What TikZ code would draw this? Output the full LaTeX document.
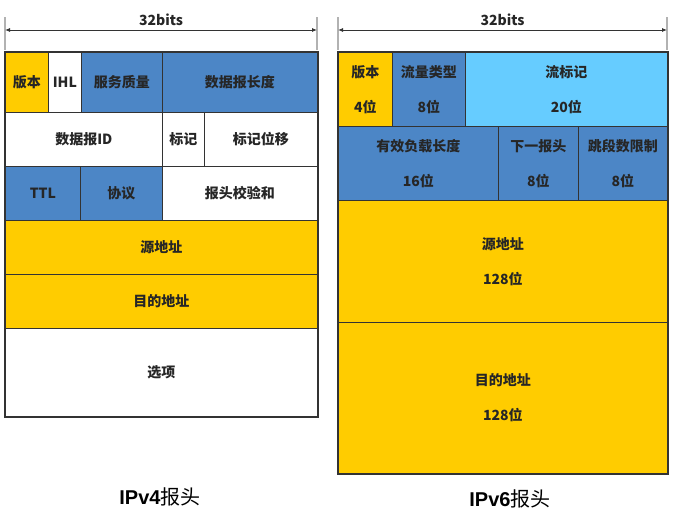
\documentclass[tikz,border=0pt]{standalone}
\usepackage{fontspec}
\setmainfont{Liberation Sans}
\newfontfamily\cjk{Noto Sans CJK SC}
\usetikzlibrary{arrows.meta}
\definecolor{hdrgold}{HTML}{FFCC00}
\definecolor{hdrblue}{HTML}{4C86C6}
\definecolor{hdrsky}{HTML}{66CCFF}

\begin{document}
\begin{tikzpicture}[
    x=1pt, y=-1pt,
    cell/.style={draw=black!80, line width=0.8pt, inner sep=0pt, anchor=north west,
        align=center, text=black!85, font=\cjk\bfseries\fontsize{14}{35}\selectfont},
    box/.style 2 args={minimum width=#1pt, minimum height=#2pt},
    gold/.style={cell, fill=hdrgold},
    blue/.style={cell, fill=hdrblue},
    sky/.style={cell, fill=hdrsky},
    plain/.style={cell, fill=white},
    frame/.style={draw=black!80, line width=1.6pt},
    span/.style={{Latex[length=5pt,width=4pt]}-{Latex[length=5pt,width=4pt]}, line width=0.8pt, black!80},
    tick/.style={gray!60, line width=1.2pt},
    bits/.style={midway, above=1pt, font=\cjk\bfseries\fontsize{14}{16}\selectfont, text=black!85},
    caption/.style={font=\fontsize{20}{24}\selectfont}
]
    \useasboundingbox (0,0) rectangle (677,521);

    % IPv4 header
    \node (v4ver)   [gold,  box={43}{60}]  at (5,52)    {版本};
    \node (v4ihl)   [plain, box={33}{60}]  at (48,52)   {IHL};
    \node (v4tos)   [blue,  box={81}{60}]  at (81,52)   {服务质量};
    \node (v4len)   [blue,  box={155}{60}] at (162,52)  {数据报长度};
    \node (v4id)    [plain, box={157}{54}] at (5,112)   {数据报ID};
    \node (v4flag)  [plain, box={42}{54}]  at (162,112) {标记};
    \node (v4off)   [plain, box={113}{54}] at (204,112) {标记位移};
    \node (v4ttl)   [blue,  box={75}{54}]  at (5,166)   {TTL};
    \node (v4proto) [blue,  box={82}{54}]  at (80,166)  {协议};
    \node (v4csum)  [plain, box={155}{54}] at (162,166) {报头校验和};
    \node (v4src)   [gold,  box={312}{54}] at (5,220)   {源地址};
    \node (v4dst)   [gold,  box={312}{54}] at (5,274)   {目的地址};
    \node (v4opt)   [plain, box={312}{88}] at (5,328)   {选项};
    \draw [frame] (v4ver.north west) rectangle (v4opt.south east);

    % IPv6 header
    \node (v6ver)   [gold, box={54}{74}]   at (338,52)  {版本\\4位};
    \node (v6tc)    [blue, box={73}{74}]   at (392,52)  {流量类型\\8位};
    \node (v6flow)  [sky,  box={202}{74}]  at (465,52)  {流标记\\20位};
    \node (v6plen)  [blue, box={160}{74}]  at (338,126) {有效负载长度\\16位};
    \node (v6next)  [blue, box={80}{74}]   at (498,126) {下一报头\\8位};
    \node (v6hop)   [blue, box={89}{74}]   at (578,126) {跳段数限制\\8位};
    \node (v6src)   [gold, box={329}{122}] at (338,200) {源地址\\128位};
    \node (v6dst)   [gold, box={329}{151}] at (338,322) {目的地址\\128位};
    \draw [frame] (v6ver.north west) rectangle (v6dst.south east);

    % width markers
    \coordinate (v4l) at (5,30);
    \coordinate (v4r) at (317,30);
    \coordinate (v6l) at (338,30);
    \coordinate (v6r) at (667,30);
    \draw [tick] ([yshift=-20pt]v4l) -- ([yshift=13pt]v4l);
    \draw [tick] ([yshift=-20pt]v4r) -- ([yshift=13pt]v4r);
    \draw [tick] ([yshift=-20pt]v6l) -- ([yshift=13pt]v6l);
    \draw [tick] ([yshift=-20pt]v6r) -- ([yshift=13pt]v6r);
    \draw [span] (v4l) -- (v4r) node (v4bits) [bits] {32bits};
    \draw [span] (v6l) -- (v6r) node (v6bits) [bits] {32bits};

    % captions
    \node (v4cap) [caption] at (160,497) {\textbf{IPv4}{\cjk 报头}};
    \node (v6cap) [caption] at (510,499) {\textbf{IPv6}{\cjk 报头}};
\end{tikzpicture}
\end{document}
